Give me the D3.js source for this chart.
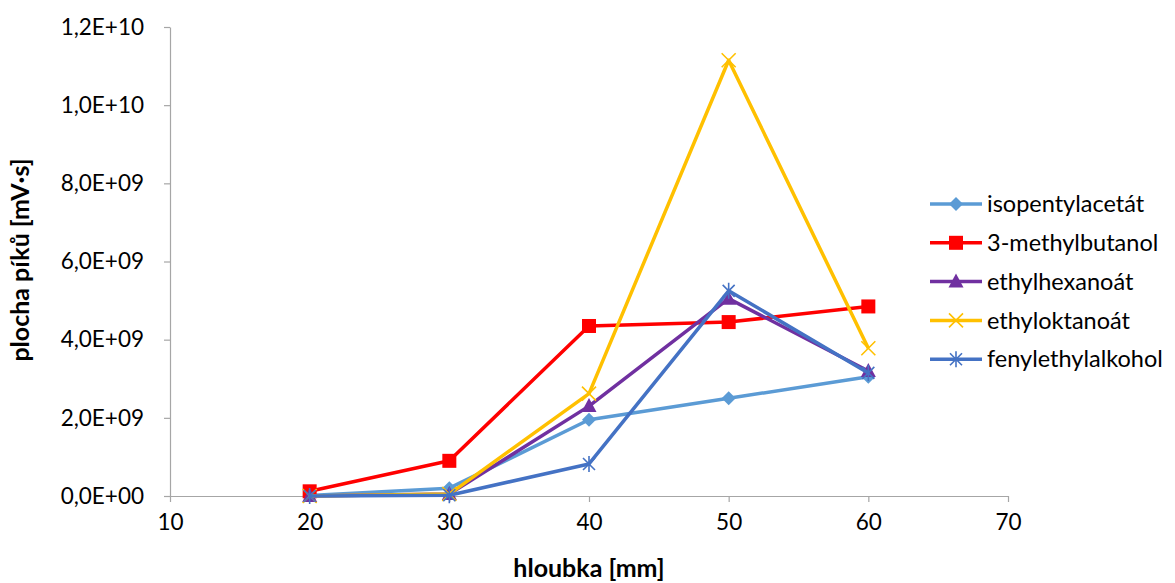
<!DOCTYPE html>
<html>
<head>
<meta charset="utf-8">
<script src="https://cdn.jsdelivr.net/npm/d3@7"></script>
<style>
  body { margin: 0; background: white; }
  text { font-family: Lato, "Open Sans", sans-serif; }
</style>
</head>
<body>
<div id="vizContainer"></div>
<script>
let w = 1175;
let h = 583;

// data
let depths = [20, 30, 40, 50, 60];
let seriesNames = ["isopentylacetát", "3-methylbutanol", "ethylhexanoát", "ethyloktanoát", "fenylethylalkohol"];
let isopentylacetat = [0.01e9, 0.2e9, 1.95e9, 2.5e9, 3.05e9];
let methylbutanol = [0.12e9, 0.9e9, 4.35e9, 4.45e9, 4.85e9];
let ethylhexanoat = [0.0e9, 0.05e9, 2.3e9, 5.05e9, 3.2e9];
let ethyloktanoat = [0.0e9, 0.05e9, 2.62e9, 11.15e9, 3.78e9];
let fenylethylalkohol = [0.0e9, 0.02e9, 0.82e9, 5.25e9, 3.15e9];
let xTicks = [10, 20, 30, 40, 50, 60, 70];
let yTicks = [0, 2e9, 4e9, 6e9, 8e9, 1e10, 1.2e10];

let colors = ["#5B9BD5", "#FF0000", "#7030A0", "#FFC000", "#4472C4"];
let markers = ["diamond", "square", "triangle", "cross", "star"];
let allValues = [isopentylacetat, methylbutanol, ethylhexanoat, ethyloktanoat, fenylethylalkohol];

let series = seriesNames.map((name, i) => {
  return {
    name: name,
    color: colors[i],
    marker: markers[i],
    points: depths.map((d, j) => ({x: d, y: allValues[i][j]}))
  };
});

let viz = d3.select("#vizContainer").append("svg")
    .attr("width", w)
    .attr("height", h)
    .style("background-color", "white")
;

let xScale = d3.scaleLinear().domain([10, 70]).range([170, 1008]);
let yScale = d3.scaleLinear().domain([0, 1.2e10]).range([496, 27]);

let fmt = function(d){
  if(d == 0) return "0,0E+00";
  let exp = Math.floor(Math.log10(d));
  let mant = d / Math.pow(10, exp);
  return mant.toFixed(1).replace(".", ",") + "E+" + (exp < 10 ? "0" + exp : exp);
};

// axes
let xAxis = d3.axisBottom(xScale).tickValues(xTicks).tickSize(6).tickPadding(8).tickSizeOuter(0);
let xAxisGroup = viz.append("g")
    .attr("class", "xaxis")
    .attr("transform", "translate(0," + yScale(0) + ")")
    .call(xAxis)
;
let yAxis = d3.axisLeft(yScale).tickValues(yTicks).tickFormat(fmt).tickSize(6).tickPadding(20).tickSizeOuter(0);
let yAxisGroup = viz.append("g")
    .attr("class", "yaxis")
    .attr("transform", "translate(" + xScale(10) + ",0)")
    .call(yAxis)
;
viz.selectAll(".xaxis path, .yaxis path, .xaxis line, .yaxis line")
    .attr("stroke", "#A6A6A6")
    .attr("stroke-width", 1.2)
;
viz.selectAll(".xaxis text, .yaxis text")
    .attr("font-size", 22.5)
    .attr("fill", "#000")
    .style("font-family", "Lato, 'Open Sans', sans-serif")
;
xAxisGroup.selectAll("text").attr("y", 26).attr("dy", "0.35em");

// axis titles
viz.append("text")
    .attr("x", xScale(40))
    .attr("y", 577)
    .attr("text-anchor", "middle")
    .attr("font-size", 25)
    .attr("font-weight", "bold")
    .text("hloubka [mm]")
;
viz.append("text")
    .attr("transform", "translate(29," + 260 + ") rotate(-90)")
    .attr("text-anchor", "middle")
    .attr("font-size", 25)
    .attr("font-weight", "bold")
    .text("plocha píků [mV·s]")
;

// marker drawing
function drawMarker(g, type, color){
  if(type == "diamond"){
    g.append("path").attr("d", "M0,-7L7,0L0,7L-7,0Z").attr("fill", color);
  } else if(type == "square"){
    g.append("rect").attr("x", -7).attr("y", -7).attr("width", 14).attr("height", 14).attr("fill", color);
  } else if(type == "triangle"){
    g.append("path").attr("d", "M0,-8L7.5,6L-7.5,6Z").attr("fill", color);
  } else if(type == "cross"){
    g.append("path").attr("d", "M-7,-7L7,7M-7,7L7,-7").attr("stroke", color).attr("stroke-width", 1.6);
  } else if(type == "star"){
    g.append("path").attr("d", "M-6,-6L6,6M-6,6L6,-6M0,-8L0,8").attr("stroke", color).attr("stroke-width", 1.6);
  }
}

let line = d3.line().x(d => xScale(d.x)).y(d => yScale(d.y));

let graphics = viz.append("g").attr("class", "graphics");
series.forEach(s => {
  let sg = graphics.append("g").attr("class", "series");
  sg.append("path")
      .datum(s.points)
      .attr("d", line)
      .attr("fill", "none")
      .attr("stroke", s.color)
      .attr("stroke-width", 3.5)
      .attr("stroke-linejoin", "round")
  ;
  sg.selectAll(".pt").data(s.points).enter()
    .append("g")
      .attr("class", "pt")
      .attr("transform", d => "translate(" + xScale(d.x) + "," + yScale(d.y) + ")")
      .each(function(){ drawMarker(d3.select(this), s.marker, s.color); })
  ;
});

// legend
let legend = viz.append("g").attr("class", "legend").attr("transform", "translate(930,204)");
series.forEach((s, i) => {
  let lg = legend.append("g").attr("transform", "translate(0," + (i * 38.8) + ")");
  lg.append("line")
      .attr("x1", 0).attr("x2", 52)
      .attr("stroke", s.color)
      .attr("stroke-width", 3.5)
  ;
  let m = lg.append("g").attr("transform", "translate(26,0)");
  drawMarker(m, s.marker, s.color);
  lg.append("text")
      .attr("x", 57)
      .attr("dy", "0.35em")
      .attr("font-size", 23.5)
      .text(s.name)
  ;
});
</script>
</body>
</html>
